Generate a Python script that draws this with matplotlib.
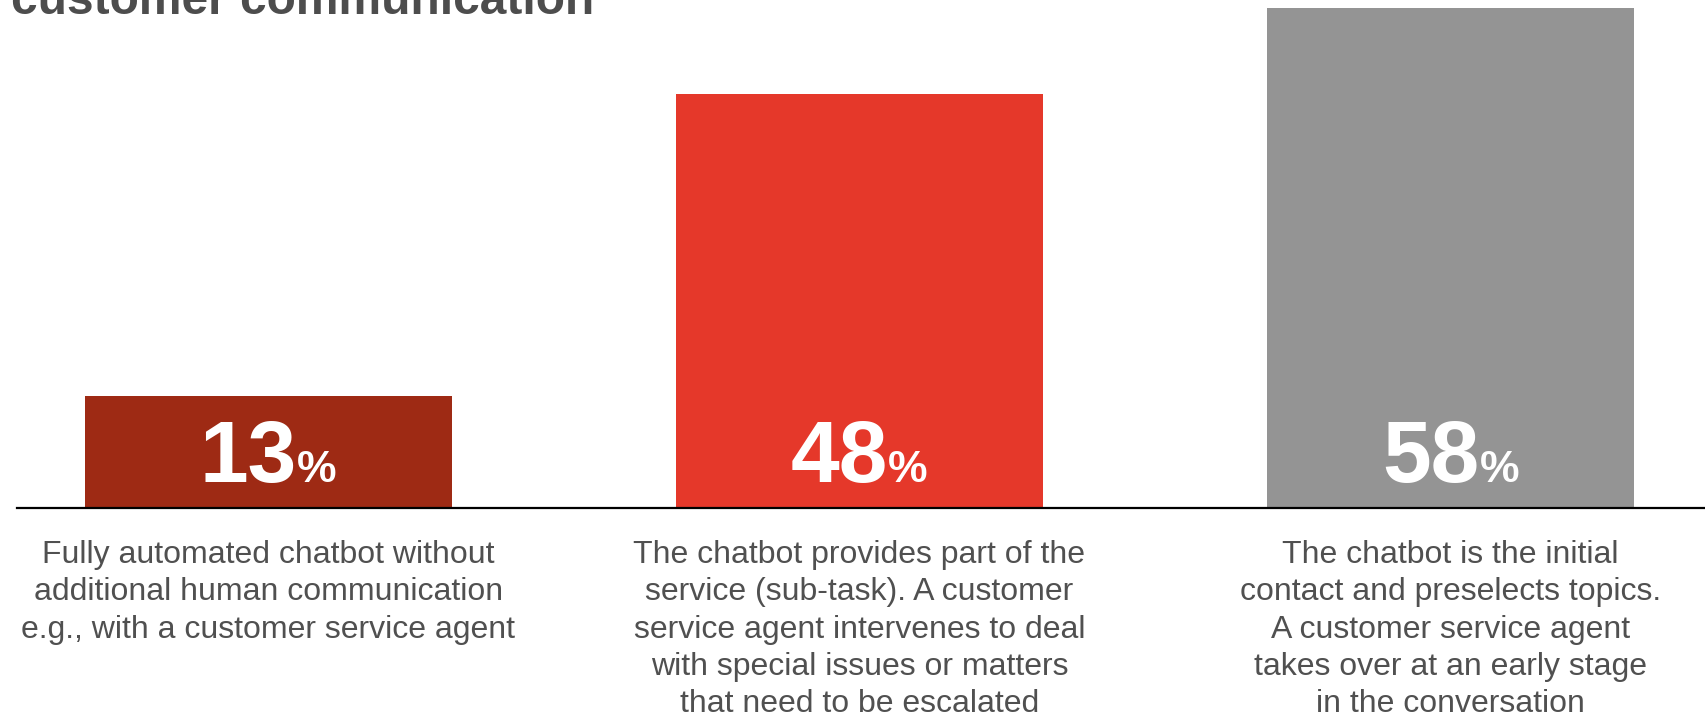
import matplotlib
matplotlib.use("Agg")
import matplotlib.pyplot as plt
from matplotlib.transforms import offset_copy

plt.rcParams['font.family'] = ['Liberation Sans', 'DejaVu Sans']

title = "customer communication"
values = [13, 48, 58]
value_labels = ["13", "48", "58"]
categories = [
    "Fully automated chatbot without\nadditional human communication\ne.g., with a customer service agent",
    "The chatbot provides part of the\nservice (sub-task). A customer\nservice agent intervenes to deal\nwith special issues or matters\nthat need to be escalated",
    "The chatbot is the initial\ncontact and preselects topics.\nA customer service agent\ntakes over at an early stage\nin the conversation",
]
colors = ["#9e2a14", "#e5382a", "#949494"]
text_gray = "#505050"

W, H, DPI = 1706, 721, 100
fig = plt.figure(figsize=(W / DPI, H / DPI), dpi=DPI)
ax_bottom = (H - 508) / H
ax_top = 1 - 8 / H
ax_left = 17 / W
ax = fig.add_axes([ax_left, ax_bottom, 1 - ax_left, ax_top - ax_bottom])

x = list(range(len(values)))
ax.bar(x, values, width=0.62, color=colors, zorder=2)
ax.set_xlim(-0.425, 2.432)
ax.set_ylim(0, 58)
for s in ["top", "right", "left"]:
    ax.spines[s].set_visible(False)
ax.spines["bottom"].set_linewidth(1.6)
ax.spines["bottom"].set_color("black")
ax.set_yticks([])
ax.set_xticks([])

fig.canvas.draw()
renderer = fig.canvas.get_renderer()
px_to_pt = 72 / DPI

# value labels: big number + smaller percent, centered together
for xi, lab in zip(x, value_labels):
    t1 = ax.text(xi, 0, lab, fontsize=63, fontweight="bold", color="white",
                 ha="left", va="baseline", transform=ax.transData)
    t2 = ax.text(xi, 0, "%", fontsize=32, fontweight="bold", color="white",
                 ha="left", va="baseline", transform=ax.transData)
    w1 = t1.get_window_extent(renderer).width
    w2 = t2.get_window_extent(renderer).width
    total = w1 + w2
    t1.set_transform(offset_copy(ax.transData, fig=fig, x=-total / 2 * px_to_pt, y=19, units="points"))
    t2.set_transform(offset_copy(ax.transData, fig=fig, x=(-total / 2 + w1) * px_to_pt, y=19, units="points"))

# category descriptions
for xi, cat in zip(x, categories):
    ax.text(xi, 0, cat, fontsize=23, color=text_gray, ha="center", va="top",
            linespacing=1.32,
            transform=offset_copy(ax.transData, fig=fig, x=0, y=-23, units="points"))

fig.text(11 / W, 1 - 14 / H, title, fontsize=34.5, fontweight="bold",
         color="#4d4d4d", ha="left", va="baseline")

fig.savefig("out.png", dpi=DPI)
